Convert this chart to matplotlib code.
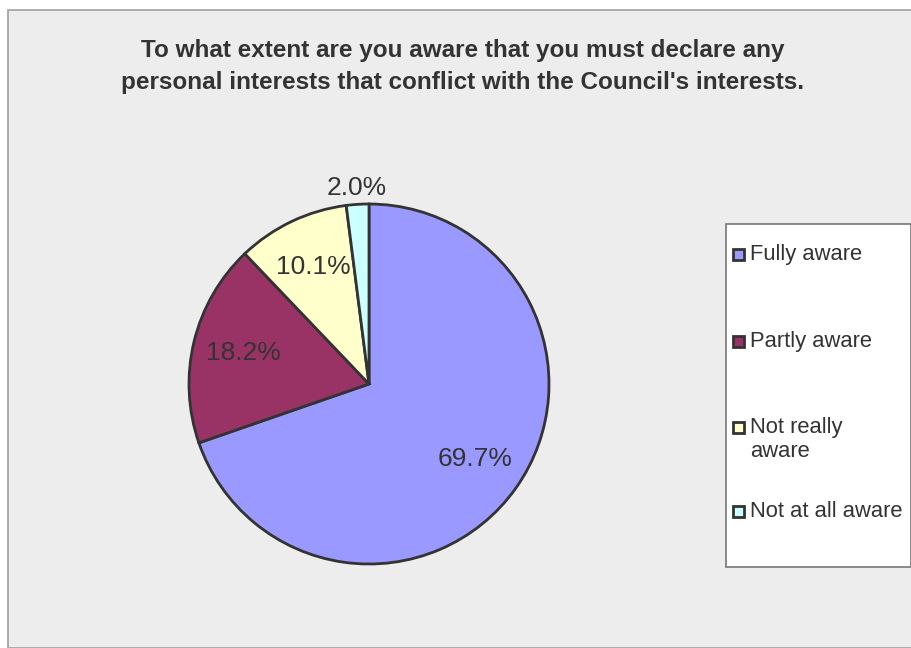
import matplotlib.pyplot as plt
from matplotlib.patches import Rectangle

labels = ["Fully aware", "Partly aware", "Not really\naware", "Not at all aware"]
counts = [69, 18, 10, 2]
colors = ["#9999FF", "#993366", "#FFFFCC", "#CCFFFF"]

W, H = 912, 648
fig = plt.figure(figsize=(W / 100, H / 100), dpi=100)
fig.patch.set_facecolor("white")

def fx(px):
    return px / W

def fy(py):
    return 1 - py / H

# grey chart area with thin border, kept behind the pie axes
fig.patches.append(Rectangle((fx(8), 0), 1 - fx(8), fy(10), transform=fig.transFigure,
                             facecolor="#EDEDED", edgecolor="#A0A0A0", linewidth=1.2,
                             zorder=-5))

fig.text(fx(463), fy(67), "To what extent are you aware that you must declare any\n"
         "personal interests that conflict with the Council's interests.",
         ha="center", va="center", fontsize=17.5, color="#333333", linespacing=1.5,
         family="Liberation Sans", fontweight="bold")

cx, cy, r = 369, 384, 180
ax = fig.add_axes([fx(cx - r), fy(cy + r), fx(2 * r), 2 * r / H])
wedges, texts, autotexts = ax.pie(counts, colors=colors, startangle=90, counterclock=False,
                                  autopct="%.1f%%", pctdistance=0.72, radius=1,
                                  wedgeprops=dict(edgecolor="#333333", linewidth=2),
                                  textprops=dict(fontsize=19, color="#333333",
                                                 family="Liberation Sans"))
# the small slice gets its label outside the pie
x, y = autotexts[3].get_position()
autotexts[3].set_position((x / 0.72 * 1.09, y / 0.72 * 1.09))
ax.set_xlim(-1, 1)
ax.set_ylim(-1, 1)
ax.set_aspect("equal")
ax.axis("off")

# legend box
fig.patches.append(Rectangle((fx(726), fy(567)), fx(911 - 726), (567 - 224) / H,
                             transform=fig.transFigure, facecolor="white",
                             edgecolor="#777777", linewidth=1.2))
rows = [254, 341, 427, 511]
for lab, col, py in zip(labels, colors, rows):
    fig.patches.append(Rectangle((fx(733), fy(py + 6)), fx(11), 11 / H,
                                 transform=fig.transFigure, facecolor=col,
                                 edgecolor="#333333", linewidth=2))
    fig.text(fx(750), fy(py - 10), lab, ha="left", va="top", fontsize=15.8,
             color="#333333", family="Liberation Sans", linespacing=1.2)

fig.savefig("out.png", dpi=100, facecolor=fig.get_facecolor())
